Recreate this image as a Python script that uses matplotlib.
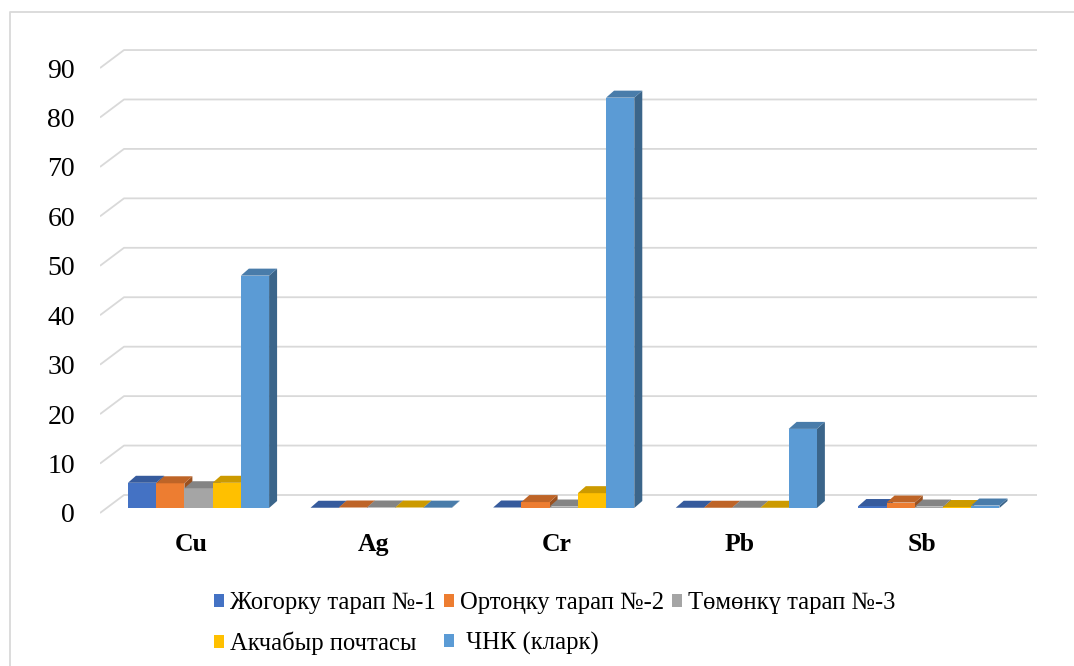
import matplotlib
matplotlib.use('Agg')
import matplotlib.pyplot as plt
from matplotlib.patches import Polygon, Patch
from matplotlib.lines import Line2D
from matplotlib.colors import to_rgb

# data
elements = ['Cu', 'Ag', 'Cr', 'Pb', 'Sb']
series_names = ['Жогорку тарап №-1', 'Ортоңку тарап №-2', 'Төмөнкү тарап №-3',
                'Акчабыр почтасы', ' ЧНК (кларк)']
zhogorku = [5.1, 0.05, 0.1, 0.05, 0.4]
ortonku = [5.0, 0.1, 1.2, 0.05, 1.1]
tomonku = [4.0, 0.1, 0.3, 0.05, 0.3]
akchabyr = [5.1, 0.1, 3.0, 0.05, 0.2]
chnk = [47, 0.07, 83, 16, 0.5]
colors = ['#4472C4', '#ED7D31', '#A5A5A5', '#FFC000', '#5B9BD5']
yticks = list(range(0, 100, 10))

all_series = [zhogorku, ortonku, tomonku, akchabyr, chnk]

plt.rcParams['font.family'] = ['Liberation Serif', 'DejaVu Serif']

W, H = 1074, 666
fig = plt.figure(figsize=(W / 100, H / 100), dpi=100)

# axes placed so category -0.5 sits at the front-left of the floor
px_x = 182.6   # pixels per category
px_y = 4.944   # pixels per unit
xlim = (-0.5, 4.7)
ylim = (-2, 95)
left = 100
bottom = 513 + 2 * px_y
ax = fig.add_axes([left / W, 1 - bottom / H,
                   (xlim[1] - xlim[0]) * px_x / W,
                   (ylim[1] - ylim[0]) * px_y / H])
ax.set_xlim(*xlim)
ax.set_ylim(*ylim)
for s in ax.spines.values():
    s.set_visible(False)

# depth of the back wall and of the bars (data units)
wall_dx, wall_dy = 24 / px_x, 18 / px_y
bar_dx0, bar_dy0 = 6.7 / px_x, 5 / px_y
bar_ddx, bar_ddy = 8 / px_x, 7 / px_y

grid_c = '#D9D9D9'
n = len(elements)
for v in yticks:
    ax.plot([-0.5, -0.5 + wall_dx, n - 0.5 + wall_dx], [v, v + wall_dy, v + wall_dy],
            color=grid_c, lw=1.3, zorder=1, solid_capstyle='butt')


def shade(c, f):
    r, g, b = to_rgb(c)
    return (r * f, g * f, b * f)


bw = 0.1546
group_left = -0.3837
for i in range(n):
    for j, vals in enumerate(all_series):
        v = vals[i]
        x0 = i + group_left + j * bw + bar_dx0
        y0 = bar_dy0
        c = colors[j]
        z = 2 + i * 10 + j
        side = Polygon([(x0 + bw, y0), (x0 + bw + bar_ddx, y0 + bar_ddy),
                        (x0 + bw + bar_ddx, y0 + v + bar_ddy), (x0 + bw, y0 + v)],
                       closed=True, facecolor=shade(c, 0.65), edgecolor='none', zorder=z)
        ax.add_patch(side)
        ax.bar(x0, v, width=bw, bottom=y0, align='edge', color=c, zorder=z, linewidth=0)
        top = Polygon([(x0, y0 + v), (x0 + bw, y0 + v), (x0 + bw + bar_ddx, y0 + v + bar_ddy),
                       (x0 + bar_ddx, y0 + v + bar_ddy)],
                      closed=True, facecolor=shade(c, 0.8), edgecolor='none', zorder=z)
        ax.add_patch(top)

ax.set_yticks(yticks)
ax.set_yticklabels([str(t) for t in yticks], fontsize=20)
ax.set_xticks(range(n))
ax.set_xticklabels(elements, fontsize=18.5, fontweight='bold')
ax.tick_params(axis='y', length=0, pad=18)
ax.tick_params(axis='x', length=0, pad=7)

# legend, Excel-like row order
handles = [Patch(facecolor=c, edgecolor='none') for c in colors]
order = [0, 3, 1, 4, 2]
fig.legend([handles[k] for k in order], [series_names[k] for k in order],
           ncol=3, loc='upper left', bbox_to_anchor=(214 / W, 1 - 592 / H),
           frameon=False, fontsize=17.7, handlelength=0.42, handleheight=0.42,
           handletextpad=0.25, columnspacing=0.3, labelspacing=0.72,
           borderpad=0, borderaxespad=0)

# chart area border
fig.add_artist(Line2D([10 / W, 10 / W, 1.0], [0.0, 1 - 12 / H, 1 - 12 / H],
                      transform=fig.transFigure, color=grid_c, lw=1.3))

fig.savefig('out.png', dpi=100)
